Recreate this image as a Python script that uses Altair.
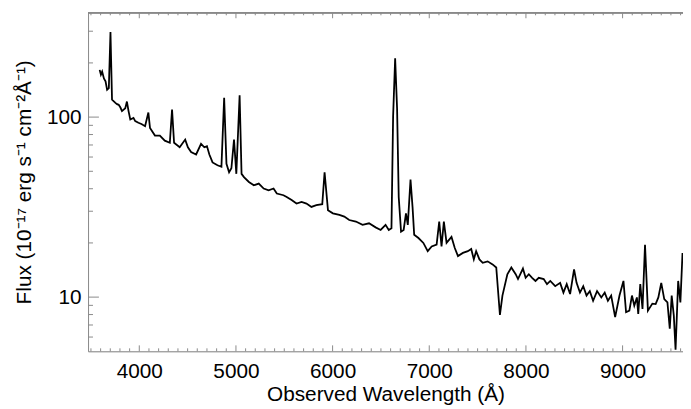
import altair as alt
import pandas as pd

# ---- spectrum (observed wavelength in Å, flux in 1e-17 erg/s/cm2/Å) ----
wavelength = [
    3590, 3603, 3616, 3634, 3651, 3667, 3685, 3702, 3718, 3753, 3770, 3787, 3805, 3821,
    3855, 3872, 3889, 3907, 3940, 3958, 3991, 4022, 4060, 4094, 4111, 4162, 4213, 4264,
    4316, 4339, 4360, 4418, 4475, 4503, 4536, 4588, 4639, 4673, 4700, 4725, 4758, 4809,
    4850, 4878, 4902, 4929, 4953, 4980, 5004, 5038, 5058, 5083, 5134, 5185, 5236, 5287,
    5338, 5389, 5423, 5492, 5525, 5576, 5627, 5679, 5730, 5781, 5832, 5893, 5917, 5952,
    6003, 6070, 6121, 6172, 6241, 6310, 6377, 6445, 6497, 6548, 6581, 6609, 6626, 6647,
    6667, 6684, 6708, 6735, 6759, 6778, 6806, 6827, 6844, 6888, 6939, 6984, 7025, 7076,
    7103, 7127, 7151, 7179, 7230, 7264, 7297, 7348, 7399, 7434, 7461, 7485, 7519, 7553,
    7604, 7655, 7693, 7731, 7757, 7808, 7849, 7894, 7918, 7969, 7997, 8030, 8064, 8099,
    8133, 8184, 8218, 8252, 8303, 8354, 8388, 8422, 8457, 8498, 8524, 8559, 8593, 8627,
    8661, 8695, 8736, 8780, 8815, 8848, 8882, 8923, 8968, 9009, 9036, 9070, 9097, 9121,
    9148, 9162, 9183, 9206, 9232, 9262, 9308, 9342, 9370, 9400, 9431, 9464, 9488, 9508,
    9530, 9548, 9575, 9598, 9620,
]
flux = [
    183, 172, 179, 164, 158, 142, 145, 297, 125, 120, 118, 117, 113, 108,
    112, 122, 108, 97, 99, 95, 93, 91.5, 89, 106, 87, 79, 79, 74,
    72, 110, 72, 68, 75, 68, 64, 62, 71, 68, 69, 62, 56, 54,
    53, 128, 55, 49.4, 52, 75, 48.4, 132, 48.4, 46.4, 43.6, 41.8, 42.7, 40.1,
    39.2, 40.1, 37.6, 36.8, 36, 34.6, 33.1, 33.8, 33.1, 31.7, 32.4, 32.8, 49.4, 30.4,
    29.2, 28.6, 28, 26.8, 26.3, 25.2, 25.7, 24.4, 23.6, 25.2, 23.6, 24.15, 101, 212,
    112, 36, 23.1, 23.6, 29.2, 25.2, 45, 31.7, 22.2, 21.3, 20, 18, 19.1, 19.55,
    26.3, 19.1, 26.3, 20, 21.6, 18.75, 16.9, 17.6, 18, 18.5, 16.2, 18, 16.2, 15.5,
    15.8, 15.2, 14.6, 7.96, 10.2, 13.4, 14.6, 13.4, 12.6, 14.4, 12.8, 13.4, 12.8, 12.3,
    12.8, 12.6, 11.8, 12.3, 11.5, 12.0, 10.6, 11.8, 10.4, 14.25, 12.0, 10.6, 11.5, 10.2,
    10.8, 9.54, 10.8, 9.96, 10.6, 9.54, 10.2, 7.74, 10.2, 12.3, 8.24, 8.41, 10.2, 8.96,
    9.96, 8.06, 11.8, 8.59, 19.55, 8.41, 9.2, 9.15, 9.96, 12.0, 9.75, 9.35, 6.67, 10.2,
    7.89, 5.1, 12.3, 9.35, 17.6,
]

# ---- axis ticks ----
x_major = [4000, 5000, 6000, 7000, 8000, 9000]
x_minor = [w for w in range(3500, 9700, 100) if w % 1000 != 0]
y_major = [10, 100]
y_minor = [6, 7, 8, 9, 20, 30, 40, 50, 60, 70, 80, 90, 200, 300]

W, H = 602, 343
FONT = "Liberation Sans"
AXIS_GRAY = "#8a8a8a"

spec = pd.DataFrame({"wl": wavelength, "flux": flux})
xmaj = pd.DataFrame({"wl": x_major})
xmin = pd.DataFrame({"wl": x_minor})
ymaj = pd.DataFrame({"flux": y_major})
ymin = pd.DataFrame({"flux": y_minor})

xscale = alt.Scale(domain=[3470, 9625], nice=False, zero=False)
yscale = alt.Scale(type="log", domain=[5, 382], nice=False)

xaxis = alt.Axis(
    values=x_major, format="d", ticks=False, grid=False,
    domainColor=AXIS_GRAY, domainWidth=1,
    labelFont=FONT, labelFontSize=21, labelColor="black", labelPadding=10,
    title="Observed Wavelength (Å)", titleFont=FONT, titleFontSize=21,
    titleFontWeight="normal", titleColor="black", titlePadding=2,
)
yaxis = alt.Axis(
    values=y_major, format="d", ticks=False, grid=False,
    domainColor=AXIS_GRAY, domainWidth=1,
    labelFont=FONT, labelFontSize=21, labelColor="black", labelPadding=7,
    title="Flux (10⁻¹⁷ erg s⁻¹ cm⁻²Å⁻¹)", titleFont=FONT, titleFontSize=21,
    titleFontWeight="normal", titleColor="black", titlePadding=12,
)

def X():
    return alt.X("wl:Q", scale=xscale, axis=xaxis)

def Y():
    return alt.Y("flux:Q", scale=yscale, axis=yaxis)

line = alt.Chart(spec).mark_line(color="black", strokeWidth=1.8, clip=True).encode(
    x=X(), y=Y()
)

def xticks(df, length):
    bottom = alt.Chart(df).mark_rule(color=AXIS_GRAY, strokeWidth=1).encode(
        x=X(), y=alt.value(H), y2=alt.value(H - length)
    )
    top = alt.Chart(df).mark_rule(color=AXIS_GRAY, strokeWidth=1).encode(
        x=X(), y=alt.value(0), y2=alt.value(length)
    )
    return [bottom, top]

def yticks(df, length):
    return [alt.Chart(df).mark_rule(color=AXIS_GRAY, strokeWidth=1).encode(
        y=Y(), x=alt.value(0), x2=alt.value(length)
    )]

top_line = alt.Chart(xmaj).mark_rule(color=AXIS_GRAY, strokeWidth=1).encode(
    x=alt.value(0), x2=alt.value(W), y=alt.value(0.5)
)

layers = [line, top_line] + xticks(xmaj, 6) + xticks(xmin, 3) + yticks(ymaj, 11) + yticks(ymin, 5)

chart = alt.layer(*layers).properties(
    width=W, height=H,
    autosize=alt.AutoSizeParams(type="none"),
    padding={"left": 81, "top": 2, "right": 0, "bottom": 55},
).configure_view(stroke=None).configure(background="white")

chart.save("out.html", embed_options={"renderer": "svg", "actions": False})
